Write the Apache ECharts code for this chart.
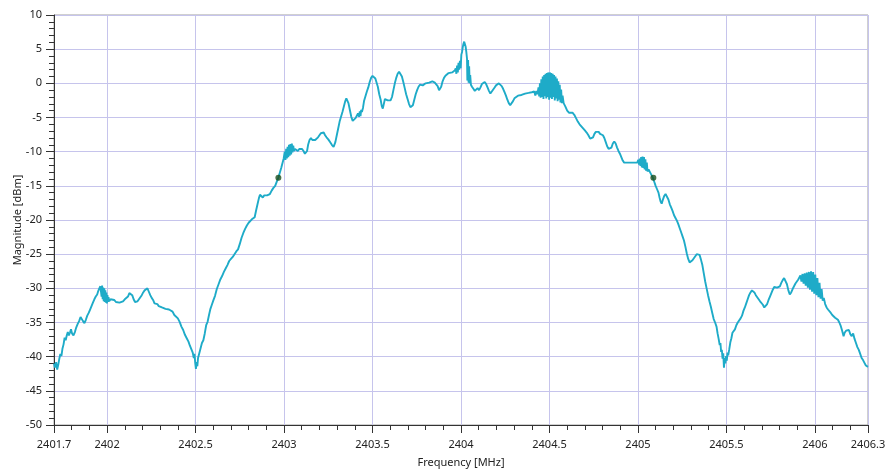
<!DOCTYPE html>
<html>
<head>
<meta charset="utf-8">
<script src="https://cdn.jsdelivr.net/npm/echarts@6/dist/echarts.min.js"></script>
<style>html,body{margin:0;padding:0;background:#fff}#c{width:886px;height:471px}</style>
</head>
<body>
<div id="c"></div>
<script>
// x-axis labelled ticks (MHz)
const xMajorTicks = [2401.7, 2402, 2402.5, 2403, 2403.5, 2404, 2404.5, 2405, 2405.5, 2406, 2406.3];
const xMin = 2401.7, xMax = 2406.3;
const yMin = -50, yMax = 10, yStep = 5;

// spectrum trace [frequency MHz, magnitude dBm]
const lowerSideLobe = [
[2401.700,-41.0],[2401.705,-41.6],[2401.712,-40.8],[2401.718,-41.9],[2401.724,-41.2],[2401.730,-40.3],
[2401.736,-39.6],[2401.742,-39.9],[2401.748,-38.8],[2401.754,-38.2],[2401.760,-37.2],[2401.766,-37.6],
[2401.772,-36.9],[2401.778,-36.4],[2401.784,-36.9],[2401.790,-36.5],[2401.796,-36.0],[2401.802,-36.6],
[2401.810,-36.9],[2401.818,-36.4],[2401.826,-35.7],[2401.834,-35.2],[2401.842,-34.8],[2401.850,-34.2],
[2401.857,-34.3],[2401.864,-34.8],[2401.872,-35.1],[2401.880,-34.6],[2401.888,-34.0],[2401.896,-33.6],
[2401.904,-33.1],[2401.912,-32.6],[2401.920,-32.1],[2401.928,-31.6],[2401.936,-31.2],[2401.944,-30.9],
[2401.950,-30.4],[2401.956,-30.0],[2401.962,-29.7],[2401.966,-29.5],[2401.969,-31.2],[2401.972,-29.6],
[2401.975,-31.6],[2401.978,-29.9],[2401.981,-31.9],[2401.984,-30.0],[2401.987,-32.0],[2401.990,-30.3],
[2401.993,-32.1],[2401.996,-30.6],[2401.999,-32.2],[2402.002,-31.0],[2402.005,-32.0],[2402.008,-31.3],
[2402.012,-31.9],[2402.020,-31.6],[2402.030,-31.8],[2402.040,-31.7],[2402.050,-32.0],[2402.060,-31.8],
[2402.070,-32.1],[2402.080,-31.9],[2402.090,-31.9],[2402.100,-31.6],[2402.110,-31.6],[2402.118,-31.2],
[2402.126,-30.7],[2402.134,-30.5],[2402.142,-31.0],[2402.150,-31.6],[2402.158,-32.0],[2402.164,-32.2],
[2402.172,-31.9],[2402.180,-31.6],[2402.188,-31.3],[2402.196,-31.0],[2402.204,-30.6],[2402.212,-30.3],
[2402.220,-30.1],[2402.228,-30.0],[2402.236,-30.5],[2402.244,-31.0],[2402.252,-31.4],[2402.260,-31.7],
[2402.268,-32.2],[2402.276,-32.4],[2402.284,-32.3],[2402.292,-32.6],[2402.300,-32.5],[2402.310,-32.8],
[2402.320,-32.7],[2402.330,-33.0],[2402.340,-32.9],[2402.350,-33.1],[2402.360,-33.3],[2402.370,-33.4],
[2402.380,-33.9],[2402.390,-33.8],[2402.400,-34.4],[2402.410,-34.9],[2402.420,-35.6],[2402.430,-36.1],
[2402.440,-36.8],[2402.450,-37.3],[2402.460,-37.8],[2402.468,-38.4],[2402.476,-38.9],[2402.484,-39.4],
[2402.490,-40.2],[2402.494,-39.6],[2402.498,-40.9],[2402.502,-41.8],[2402.506,-40.8],[2402.510,-41.4],
[2402.514,-40.2],[2402.520,-39.6],[2402.528,-38.8],[2402.536,-38.0],[2402.544,-37.6],[2402.552,-36.6]
];
const mainLobeRise = [
[2402.560,-35.4],[2402.568,-34.9],[2402.576,-33.9],[2402.584,-33.0],[2402.592,-32.4],[2402.600,-31.8],
[2402.610,-31.1],[2402.620,-30.1],[2402.630,-29.4],[2402.640,-28.7],[2402.650,-28.2],[2402.660,-27.6],
[2402.670,-27.1],[2402.680,-26.6],[2402.690,-26.0],[2402.700,-25.7],[2402.710,-25.4],[2402.720,-25.0],
[2402.730,-24.6],[2402.740,-24.3],[2402.750,-23.5],[2402.760,-22.6],[2402.770,-21.9],[2402.780,-21.3],
[2402.790,-20.8],[2402.800,-20.4],[2402.810,-20.2],[2402.818,-19.9],[2402.826,-20.1],[2402.834,-19.6],
[2402.842,-18.6],[2402.850,-17.7],[2402.858,-16.8],[2402.864,-16.3],[2402.872,-16.5],[2402.880,-16.7],
[2402.888,-16.4],[2402.896,-16.6],[2402.904,-16.4],[2402.912,-16.3],[2402.920,-16.2],[2402.930,-15.7],
[2402.940,-15.3],[2402.950,-15.0],[2402.960,-14.3],[2402.968,-13.8],[2402.976,-13.1],[2402.984,-12.4],
[2402.992,-11.6],[2402.998,-11.0],[2403.004,-10.0],[2403.008,-11.2],[2403.012,-9.6],[2403.016,-11.0],
[2403.020,-9.3],[2403.024,-10.8],[2403.028,-9.0],[2403.032,-10.6],[2403.036,-8.9],[2403.040,-10.4],
[2403.044,-8.8],[2403.048,-10.1],[2403.052,-9.1],[2403.056,-9.9],[2403.062,-9.6],[2403.070,-9.8],
[2403.078,-9.9],[2403.086,-9.6],[2403.094,-9.5],[2403.102,-9.6],[2403.110,-9.9],[2403.118,-10.3],
[2403.124,-10.5],[2403.130,-9.9],[2403.136,-9.0],[2403.144,-8.3],[2403.152,-8.0],[2403.160,-8.3],
[2403.168,-8.5],[2403.176,-8.3],[2403.184,-8.2],[2403.192,-7.9],[2403.200,-7.6],[2403.208,-7.3],
[2403.216,-7.1],[2403.224,-7.2],[2403.232,-7.6],[2403.240,-7.9],[2403.250,-8.2],[2403.260,-8.6],
[2403.270,-9.0],[2403.280,-9.3],[2403.290,-8.6],[2403.298,-7.6],[2403.306,-6.6],[2403.314,-5.6],
[2403.322,-4.9],[2403.330,-4.2],[2403.338,-3.4],[2403.346,-2.6],[2403.352,-2.2],[2403.358,-2.3],
[2403.364,-2.9],[2403.372,-3.9],[2403.380,-4.9],[2403.388,-5.5],[2403.396,-5.6],[2403.404,-5.1],
[2403.412,-4.7],[2403.418,-4.4],[2403.424,-4.9],[2403.428,-4.1],[2403.432,-4.8],[2403.436,-3.9],
[2403.440,-4.2],[2403.446,-3.6],[2403.452,-2.6],[2403.460,-1.9],[2403.468,-1.2],[2403.476,-0.6],
[2403.484,0.2],[2403.492,0.8],[2403.500,1.1],[2403.508,1.1],[2403.516,0.7],[2403.524,0.0]
];
const mainLobeTop = [
[2403.530,-0.5],[2403.538,-1.6],[2403.546,-2.4],[2403.552,-3.3],[2403.558,-3.7],[2403.564,-3.0],
[2403.570,-2.3],[2403.578,-2.2],[2403.586,-2.5],[2403.594,-2.7],[2403.602,-2.5],[2403.610,-2.0],
[2403.618,-1.0],[2403.626,0.0],[2403.634,0.8],[2403.642,1.4],[2403.650,1.7],[2403.658,1.6],
[2403.666,1.0],[2403.674,0.2],[2403.682,-0.7],[2403.690,-1.6],[2403.698,-2.3],[2403.706,-3.0],
[2403.714,-3.5],[2403.720,-3.7],[2403.728,-3.2],[2403.736,-2.4],[2403.744,-1.6],[2403.752,-1.0],
[2403.760,-0.5],[2403.768,-0.2],[2403.776,-0.1],[2403.784,-0.3],[2403.792,-0.1],[2403.800,0.0],
[2403.810,-0.2],[2403.820,0.1],[2403.830,0.2],[2403.838,0.3],[2403.846,0.5],[2403.852,0.1],
[2403.860,-0.1],[2403.868,-0.4],[2403.876,-1.0],[2403.882,-1.2],[2403.888,-0.5],[2403.896,0.3],
[2403.904,0.8],[2403.912,1.1],[2403.920,1.3],[2403.930,1.5],[2403.940,1.4],[2403.950,1.6],
[2403.958,1.5],[2403.966,1.9],[2403.970,2.2],[2403.974,1.4],[2403.978,2.6],[2403.982,1.6],
[2403.986,3.0],[2403.990,2.0],[2403.994,3.3],[2403.998,2.2],[2404.002,4.2],[2404.006,4.6],
[2404.010,5.3],[2404.014,5.8],[2404.018,6.1],[2404.022,6.0],[2404.026,5.4],[2404.030,4.6],
[2404.034,3.6],[2404.036,0.4],[2404.040,3.4],[2404.043,0.1],[2404.046,2.5],[2404.049,0.0],
[2404.052,1.2],[2404.056,-0.2],[2404.062,-0.5],[2404.070,-0.8],[2404.078,-1.1],[2404.086,-1.0],
[2404.094,-0.7],[2404.102,-1.0],[2404.110,-0.6],[2404.118,-0.1],[2404.126,0.1],[2404.134,0.2],
[2404.142,-0.1],[2404.150,-0.6],[2404.158,-1.1],[2404.166,-1.5],[2404.174,-1.3],[2404.182,-0.9],
[2404.190,-0.6],[2404.198,-0.3],[2404.206,-0.1],[2404.214,0.0],[2404.222,-0.1],[2404.230,-0.4],
[2404.238,-0.8],[2404.246,-1.3],[2404.254,-1.8],[2404.262,-2.4],[2404.270,-2.9],[2404.278,-3.2],
[2404.286,-3.0],[2404.294,-2.6],[2404.302,-2.2],[2404.312,-2.0],[2404.322,-1.8],[2404.332,-1.7],
[2404.342,-1.7],[2404.352,-1.6],[2404.362,-1.5],[2404.372,-1.5],[2404.382,-1.4],[2404.392,-1.6],
[2404.400,-1.3],[2404.408,-1.5],[2404.414,-1.2],[2404.420,-1.8],[2404.426,-1.1],[2404.432,-1.6],
[2404.438,-0.6],[2404.442,-1.9],[2404.446,0.0],[2404.450,-2.1],[2404.454,0.6],[2404.458,-2.0],
[2404.462,1.0],[2404.466,-2.3],[2404.470,1.2],[2404.474,-1.9],[2404.478,1.4],[2404.482,-2.2],
[2404.486,1.5],[2404.490,-2.0],[2404.494,1.6],[2404.498,-2.4],[2404.502,1.6],[2404.506,-2.1],
[2404.510,1.5],[2404.514,-2.3],[2404.518,1.4],[2404.522,-2.0],[2404.526,1.2],[2404.530,-2.5],
[2404.534,1.0],[2404.538,-2.2],[2404.542,0.7],[2404.546,-2.6],[2404.550,0.3],[2404.554,-2.4],
[2404.558,-0.2],[2404.562,-2.8],[2404.566,-0.9],[2404.570,-2.9],[2404.574,-1.8]
];
const mainLobeFall = [
[2404.580,-2.9],[2404.590,-3.4],[2404.600,-4.0],[2404.610,-4.3],[2404.620,-4.4],[2404.630,-4.3],
[2404.640,-4.6],[2404.650,-5.1],[2404.660,-5.6],[2404.670,-6.0],[2404.680,-6.3],[2404.690,-6.6],
[2404.700,-6.9],[2404.710,-7.2],[2404.720,-7.6],[2404.730,-8.1],[2404.738,-8.3],[2404.746,-7.9],
[2404.754,-7.4],[2404.762,-7.1],[2404.770,-7.0],[2404.778,-7.1],[2404.786,-7.4],[2404.794,-7.6],
[2404.802,-7.6],[2404.810,-8.0],[2404.818,-8.6],[2404.826,-9.2],[2404.834,-9.6],[2404.842,-9.8],
[2404.850,-9.4],[2404.858,-8.8],[2404.866,-8.5],[2404.874,-8.8],[2404.882,-9.4],[2404.890,-9.9],
[2404.898,-10.3],[2404.906,-10.8],[2404.914,-11.3],[2404.922,-11.6],[2404.930,-11.7],[2404.940,-11.6],
[2404.950,-11.8],[2404.960,-11.6],[2404.970,-11.7],[2404.980,-11.6],[2404.988,-11.4],[2404.996,-11.6],
[2405.002,-11.2],[2405.006,-11.9],[2405.010,-11.0],[2405.014,-12.1],[2405.018,-10.8],[2405.022,-12.3],
[2405.026,-10.7],[2405.030,-12.4],[2405.034,-10.8],[2405.038,-12.6],[2405.042,-11.1],[2405.046,-12.8],
[2405.050,-11.6],[2405.054,-12.9],[2405.060,-12.6],[2405.068,-13.0],[2405.076,-13.4],[2405.084,-13.8],
[2405.092,-14.4],[2405.100,-15.0],[2405.108,-15.5],[2405.116,-16.0],[2405.122,-16.7],[2405.128,-17.3],
[2405.134,-17.6],[2405.140,-17.1],[2405.148,-16.5],[2405.156,-16.2],[2405.164,-16.4],[2405.172,-17.0],
[2405.180,-17.7],[2405.188,-18.2],[2405.196,-18.7],[2405.204,-19.3],[2405.212,-19.7],[2405.220,-20.1],
[2405.228,-20.6],[2405.236,-21.2],[2405.244,-21.8],[2405.252,-22.4],[2405.260,-23.0],[2405.268,-23.9],
[2405.276,-24.9],[2405.284,-25.7],[2405.292,-26.2],[2405.300,-26.2],[2405.308,-25.9],[2405.316,-25.8],
[2405.324,-25.3],[2405.332,-25.0],[2405.340,-24.9],[2405.348,-25.1],[2405.356,-25.8],[2405.364,-26.6],
[2405.372,-27.8],[2405.380,-29.0],[2405.388,-30.0],[2405.396,-31.0],[2405.404,-31.9],[2405.412,-32.7],
[2405.420,-33.6],[2405.428,-34.5],[2405.436,-35.0],[2405.444,-35.6],[2405.450,-36.6],[2405.456,-37.4],
[2405.462,-38.3],[2405.466,-38.0],[2405.470,-39.3],[2405.474,-39.0],[2405.478,-40.3],[2405.482,-39.5],
[2405.486,-41.6],[2405.490,-40.2],[2405.494,-41.0],[2405.498,-39.9],[2405.502,-40.6],[2405.506,-39.4],
[2405.510,-39.8],[2405.516,-38.9],[2405.522,-37.9],[2405.528,-37.3],[2405.534,-36.5],[2405.540,-36.3]
];
const upperSideLobe = [
[2405.548,-36.0],[2405.556,-35.4],[2405.564,-35.0],[2405.572,-34.8],[2405.580,-34.4],[2405.588,-34.0],
[2405.596,-33.3],[2405.604,-32.8],[2405.612,-32.2],[2405.620,-31.6],[2405.628,-31.0],[2405.636,-30.6],
[2405.644,-30.3],[2405.650,-30.2],[2405.658,-30.6],[2405.666,-31.0],[2405.674,-31.2],[2405.682,-31.6],
[2405.690,-31.9],[2405.698,-32.1],[2405.706,-32.4],[2405.714,-32.8],[2405.722,-32.9],[2405.730,-32.3],
[2405.738,-31.7],[2405.746,-31.2],[2405.754,-30.7],[2405.762,-30.2],[2405.770,-29.8],[2405.778,-29.6],
[2405.786,-29.9],[2405.794,-30.1],[2405.802,-29.7],[2405.810,-29.2],[2405.818,-28.8],[2405.826,-28.5],
[2405.834,-28.6],[2405.842,-29.4],[2405.850,-30.3],[2405.858,-30.9],[2405.866,-30.6],[2405.874,-30.1],
[2405.882,-29.7],[2405.890,-29.3],[2405.898,-29.0],[2405.906,-28.7],[2405.912,-28.4],[2405.918,-28.1],
[2405.924,-29.0],[2405.930,-27.9],[2405.936,-29.3],[2405.942,-27.8],[2405.948,-29.6],[2405.954,-27.7],
[2405.960,-29.9],[2405.966,-27.6],[2405.972,-30.2],[2405.978,-27.5],[2405.984,-30.5],[2405.990,-27.6],
[2405.996,-30.8],[2406.002,-28.0],[2406.008,-31.0],[2406.014,-28.5],[2406.020,-31.3],[2406.026,-29.2],
[2406.032,-31.5],[2406.038,-30.1],[2406.044,-31.8],[2406.050,-31.4],[2406.058,-32.3],[2406.066,-32.8],
[2406.074,-33.1],[2406.082,-33.3],[2406.090,-33.6],[2406.098,-33.9],[2406.106,-34.0],[2406.114,-34.3],
[2406.122,-34.5],[2406.130,-34.6],[2406.138,-35.0],[2406.146,-35.5],[2406.154,-36.2],[2406.162,-37.0],
[2406.168,-36.5],[2406.176,-36.2],[2406.184,-36.4],[2406.192,-36.1],[2406.200,-36.7],[2406.208,-37.0],
[2406.216,-36.6],[2406.224,-37.4],[2406.232,-38.0],[2406.240,-38.6],[2406.248,-39.0],[2406.256,-39.6],
[2406.264,-40.2],[2406.272,-40.5],[2406.280,-40.9],[2406.288,-41.3],[2406.296,-41.1],[2406.300,-41.5]
];
// -14 dB bandwidth markers
const markerPoints = [[2402.968, -13.8], [2405.087, -13.8]];

const spectrum = [].concat(lowerSideLobe, mainLobeRise, mainLobeTop, mainLobeFall, upperSideLobe);

const xMinorTicks = [];
for (let i = 0; i <= Math.round((xMax - xMin) * 10); i++) xMinorTicks.push(Math.round((xMin + i * 0.1) * 10) / 10);

const FONT = 'Noto Sans';
const TXT = '#222';
const GRIDC = '#c6c4ec';

const chart = echarts.init(document.getElementById('c'), null, {renderer: 'canvas'});
chart.setOption({
  animation: false,
  backgroundColor: '#fff',
  grid: {left: 54, right: 18, top: 15, bottom: 46, show: true, borderColor: '#a0a0a0', borderWidth: 1,
    backgroundColor: 'transparent', containLabel: false, outerBoundsMode: 'none'},
  xAxis: [{
    type: 'value', min: xMin, max: xMax,
    name: 'Frequency [MHz]', nameLocation: 'middle', nameGap: 32, nameMoveOverlap: false,
    nameTextStyle: {fontFamily: FONT, fontSize: 11, color: TXT},
    axisLine: {show: true, onZero: false, lineStyle: {color: '#333', width: 1}},
    axisTick: {show: true, length: 8, customValues: xMajorTicks, lineStyle: {color: '#333'}},
    axisLabel: {customValues: xMajorTicks, margin: 14, fontFamily: FONT, fontSize: 11, color: TXT,
      formatter: v => String(Math.round(v * 10) / 10)},
    splitLine: {show: true, lineStyle: {color: GRIDC, width: 1}}
  }, {
    type: 'value', min: xMin, max: xMax, position: 'bottom',
    axisLine: {show: false, onZero: false},
    axisTick: {show: true, length: 5, customValues: xMinorTicks, lineStyle: {color: '#333'}},
    axisLabel: {show: false},
    splitLine: {show: false}
  }],
  yAxis: {
    type: 'value', min: yMin, max: yMax, interval: yStep,
    name: 'Magnitude [dBm]', nameLocation: 'middle', nameGap: 31, nameMoveOverlap: false,
    nameTextStyle: {fontFamily: FONT, fontSize: 11, color: TXT},
    axisLine: {show: true, onZero: false, lineStyle: {color: '#333', width: 1}},
    axisTick: {show: true, length: 8, lineStyle: {color: '#333'}},
    minorTick: {show: true, splitNumber: 5, length: 5, lineStyle: {color: '#333'}},
    axisLabel: {margin: 12, fontFamily: FONT, fontSize: 11, color: TXT},
    splitLine: {show: true, lineStyle: {color: GRIDC, width: 1}}
  },
  series: [{
    type: 'line', data: spectrum, xAxisIndex: 0, showSymbol: false, sampling: 'none',
    lineStyle: {color: '#1eabc8', width: 1.9}, itemStyle: {color: '#1eabc8'}, z: 3
  }, {
    type: 'scatter', data: markerPoints, xAxisIndex: 0, symbolSize: 6,
    itemStyle: {color: '#1d4f1d'}, z: 5
  }]
});
</script>
</body>
</html>
